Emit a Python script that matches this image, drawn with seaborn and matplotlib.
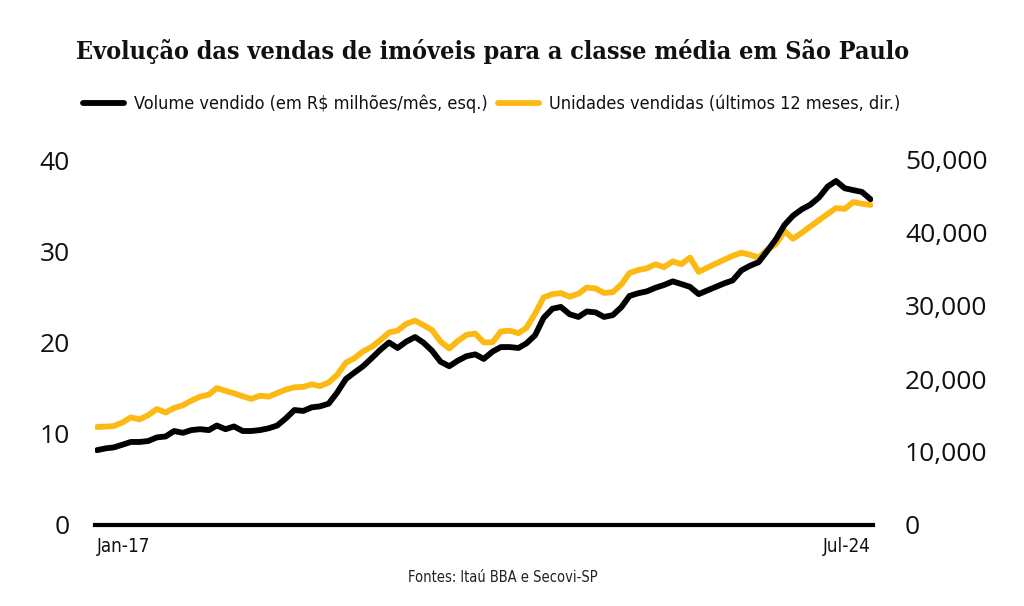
import numpy as np
import pandas as pd
import seaborn as sns
import matplotlib.pyplot as plt
from matplotlib.ticker import FuncFormatter

# meses de jan/2017 a jul/2024
meses = pd.date_range("2017-01-01", "2024-07-01", freq="MS")

# volume vendido, R$ milhoes/mes (eixo esquerdo)
volume = [8.2, 8.4, 8.5, 8.8, 9.1, 9.1, 9.2, 9.6, 9.7, 10.3,
          10.1, 10.4, 10.5, 10.4, 10.9, 10.5, 10.8, 10.3, 10.3, 10.4,
          10.6, 10.9, 11.7, 12.6, 12.5, 12.9, 13.0, 13.3, 14.5, 16.0,
          16.7, 17.4, 18.3, 19.2, 20.0, 19.4, 20.1, 20.6, 20.0, 19.1,
          17.9, 17.4, 18.0, 18.5, 18.7, 18.2, 19.0, 19.5, 19.5, 19.4,
          19.9, 20.8, 22.7, 23.7, 23.9, 23.1, 22.8, 23.4, 23.3, 22.8,
          23.0, 23.9, 25.1, 25.4, 25.6, 26.0, 26.3, 26.7, 26.4, 26.1,
          25.3, 25.7, 26.1, 26.5, 26.8, 27.9, 28.4, 28.8, 30.0, 31.3,
          32.9, 33.9, 34.6, 35.1, 35.9, 37.1, 37.7, 36.9, 36.7, 36.5,
          35.7]

# unidades vendidas, ultimos 12 meses (eixo direito)
unidades = [13420, 13480, 13550, 14040, 14740, 14470, 15040, 15890, 15410, 16040,
            16400, 17030, 17580, 17860, 18750, 18380, 18030, 17640, 17270, 17710,
            17580, 18070, 18560, 18860, 18920, 19270, 19030, 19520, 20550, 22230,
            22840, 23790, 24410, 25320, 26370, 26630, 27560, 27990, 27400, 26700,
            25140, 24190, 25190, 26050, 26230, 25010, 25030, 26510, 26620, 26270,
            27000, 28960, 31180, 31620, 31770, 31270, 31680, 32530, 32400, 31790,
            31890, 32990, 34510, 34930, 35160, 35710, 35320, 36110, 35730, 36640,
            34670, 35250, 35810, 36380, 36860, 37300, 37030, 36630, 37700, 38450,
            40250, 39210, 40030, 40890, 41750, 42630, 43410, 43300, 44230, 44010,
            43840]

rotulos_x = ["Jan-17", "Jul-24"]
ticks_esq = [0, 10, 20, 30, 40]
ticks_dir = [0, 10000, 20000, 30000, 40000, 50000]

df = pd.DataFrame({"mes": meses, "volume": volume, "unidades": unidades})

preto = "#000000"
amarelo = "#FDB913"
fonte_estreita = dict(family=["DejaVu Sans", "Roboto"], stretch="condensed")

sns.set_theme(style="white")
plt.rcParams["font.family"] = ["Open Sans", "DejaVu Sans"]

fig = plt.figure(figsize=(10.24, 6.06), dpi=100)
ax = fig.add_axes([95 / 1024, 1 - 525 / 606, 778 / 1024, 365 / 606])
ax2 = ax.twinx()

sns.lineplot(data=df, x="mes", y="volume", color=preto, lw=4.2,
             label="Volume vendido (em R$ milhões/mês, esq.)", ax=ax)
sns.lineplot(data=df, x="mes", y="unidades", color=amarelo, lw=4.2,
             label="Unidades vendidas (últimos 12 meses, dir.)", ax=ax2)

# preto por cima do amarelo
ax.set_zorder(ax2.get_zorder() + 1)
ax.patch.set_visible(False)

h1, l1 = ax.get_legend_handles_labels()
h2, l2 = ax2.get_legend_handles_labels()
ax.get_legend().remove()
ax2.get_legend().remove()

ax.set_xlim(meses[0] - pd.Timedelta(days=7), meses[-1] + pd.Timedelta(days=9))
ax.set_ylim(0, 40)
ax2.set_ylim(0, 50000)

ax.set_xticks([meses[0], meses[-1]])
ax.set_xticklabels(rotulos_x, fontsize=13.5, color="#111111", **fonte_estreita)
ax.get_xticklabels()[0].set_ha("left")
ax.get_xticklabels()[1].set_ha("right")

ax.set_yticks(ticks_esq)
ax2.set_yticks(ticks_dir)
ax2.yaxis.set_major_formatter(FuncFormatter(lambda v, p: f"{v:,.0f}"))

ax.tick_params(axis="y", length=0, pad=18, labelsize=19, labelcolor="#111111")
ax2.tick_params(axis="y", length=0, pad=23, labelsize=19, labelcolor="#111111")
ax.tick_params(axis="x", length=0, pad=9)

for s in ["top", "left", "right"]:
    ax.spines[s].set_visible(False)
for s in ax2.spines.values():
    s.set_visible(False)
ax.spines["bottom"].set_linewidth(3)
ax.spines["bottom"].set_color(preto)

ax.set_xlabel("")
ax.set_ylabel("")
ax2.set_ylabel("")
ax.grid(False)
ax2.grid(False)

fig.legend(h1 + h2, l1 + l2, loc="center left", bbox_to_anchor=(83 / 1024, 1 - 104 / 606),
           ncol=2, frameon=False, borderpad=0, borderaxespad=0,
           handlelength=2.25, handletextpad=0.6, columnspacing=0.55,
           labelcolor="#111111", prop=dict(size=13, **fonte_estreita))

fig.text(76 / 1024, 1 - 52 / 606, "Evolução das vendas de imóveis para a classe média em São Paulo",
         family=["DejaVu Serif"], stretch="condensed", fontweight="bold", fontsize=18,
         ha="left", va="center", color="#111111")

fig.text(503 / 1024, 1 - 578 / 606, "Fontes: Itaú BBA e Secovi-SP",
         fontsize=10.5, ha="center", va="center", color="#222222", **fonte_estreita)

fig.savefig("out.png", dpi=100)
